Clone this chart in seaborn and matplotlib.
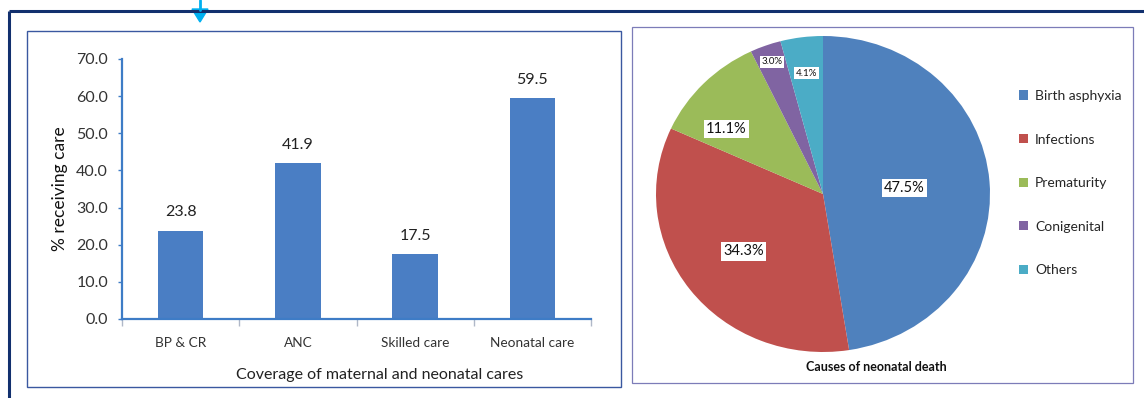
import matplotlib
matplotlib.use("Agg")
import matplotlib.pyplot as plt
import matplotlib.patches as mpatches
from matplotlib.lines import Line2D
import numpy as np
import seaborn as sns

# ---- data -------------------------------------------------------------
care_types = ["BP & CR", "ANC", "Skilled care", "Neonatal care"]
care_pct = [23.8, 41.9, 17.5, 59.5]

death_causes = ["Birth asphyxia", "Infections", "Prematurity", "Conigenital", "Others"]
death_pct = [47.5, 34.3, 11.1, 3.0, 4.1]

yticks = [0, 10, 20, 30, 40, 50, 60, 70]

# ---- styling ----------------------------------------------------------
sns.set_theme(style="white")
plt.rcParams["font.family"] = ["Lato", "DejaVu Sans"]

W, H = 1144, 398
fig = plt.figure(figsize=(W / 100, H / 100), dpi=100)
fig.patch.set_facecolor("white")


def fx(px):
    return px / W


def fy(py):
    return 1 - py / H


def rect_px(x0, y0, x1, y1):
    """figure-fraction [left, bottom, width, height] from pixel corners"""
    return [fx(x0), fy(y1), fx(x1) - fx(x0), fy(y0) - fy(y1)]


bar_blue = "#4A7EC4"
axis_blue = "#3E7CC6"
text_dark = "#333333"
pie_colors = ["#4F81BD", "#C0504D", "#9BBB59", "#8064A2", "#4BACC6"]

# ---- outer frame, arrow and panel boxes -------------------------------
navy = "#12306E"
fig.add_artist(Line2D([fx(8.5), fx(1144)], [fy(11), fy(11)], color=navy, lw=2.2,
                      transform=fig.transFigure, solid_capstyle="butt"))
fig.add_artist(Line2D([fx(8.5), fx(8.5)], [fy(11), fy(398)], color=navy, lw=2.2,
                      transform=fig.transFigure, solid_capstyle="butt"))
fig.add_artist(Line2D([fx(200), fx(200)], [fy(0), fy(10)], color="#00B0F0", lw=2,
                      transform=fig.transFigure))
fig.add_artist(mpatches.Polygon([[fx(192), fy(9)], [fx(208), fy(9)], [fx(200), fy(22)]],
                                closed=True, color="#00B0F0", transform=fig.transFigure))

fig.add_artist(mpatches.Rectangle((fx(27), fy(387)), fx(621) - fx(27), fy(31) - fy(387),
                                  fill=False, edgecolor="#3A58A0", lw=1.0,
                                  transform=fig.transFigure))
fig.add_artist(mpatches.Rectangle((fx(632), fy(383)), fx(1133) - fx(632), fy(27) - fy(383),
                                  fill=False, edgecolor="#7C7CB8", lw=0.9,
                                  transform=fig.transFigure))

# ---- bar chart: coverage of care --------------------------------------
ax = fig.add_axes(rect_px(122, 59, 591, 319))
sns.barplot(x=care_types, y=care_pct, color=bar_blue, width=0.39, saturation=1,
            ax=ax, edgecolor="none")
ax.set_xlim(-0.5, len(care_types) - 0.5)
ax.set_ylim(0, 70)
ax.set_yticks(yticks)
ax.set_yticklabels([f"{v:.1f}" for v in yticks], fontsize=11.5, color=text_dark)
ax.tick_params(axis="y", length=3, width=1, color=axis_blue, pad=7, left=True)
ax.tick_params(axis="x", which="major", length=0, pad=13, labelsize=9.8, labelcolor=text_dark)
ax.set_xticks(np.arange(-0.5, len(care_types)), minor=True)
ax.tick_params(axis="x", which="minor", length=5, width=1, color="#B0B8C8", bottom=True)
for side in ["top", "right"]:
    ax.spines[side].set_visible(False)
for side in ["left", "bottom"]:
    ax.spines[side].set_color(axis_blue)
    ax.spines[side].set_linewidth(1.6)
ax.set_ylabel("% receiving care", fontsize=12.5, color="#111111", labelpad=6)
ax.set_xlabel("Coverage of maternal and neonatal cares", fontsize=11.5, color="#222222")
ax.xaxis.set_label_coords(0.55, -0.19)
ax.bar_label(ax.containers[0], fmt="%.1f", padding=8, fontsize=11.5, color="#222222")
ax.set_facecolor("none")

# ---- pie chart: causes of neonatal death ------------------------------
pax = fig.add_axes(rect_px(656, 36, 990, 352))
wedges, _ = pax.pie(death_pct, colors=pie_colors, startangle=90, counterclock=False,
                    wedgeprops=dict(linewidth=0))
pax.set_aspect("auto")
pax.set_xlim(-1, 1)
pax.set_ylim(-1, 1)

# label radius (fraction of pie radius), turn off the mid-angle (deg), font size
label_radius = [0.49, 0.60, 0.71, 0.89, 0.77]
label_turn = [0, 0, 9, 0, 0]
label_size = [10.5, 10.5, 10.5, 7, 7]
for w, pct, r, t, fs in zip(wedges, death_pct, label_radius, label_turn, label_size):
    mid = np.deg2rad((w.theta1 + w.theta2) / 2 + t)
    pax.text(r * np.cos(mid), r * np.sin(mid), f"{pct:.1f}%", ha="center", va="center",
             fontsize=fs, color="#111111",
             bbox=dict(boxstyle="square,pad=0.15", facecolor="white", edgecolor="none"))

handles = [mpatches.Patch(facecolor=c, edgecolor="none") for c in pie_colors]
fig.legend(handles, death_causes, loc="upper left",
           bbox_to_anchor=(fx(1019), fy(90)), frameon=False, fontsize=10,
           handlelength=0.65, handleheight=0.65, handletextpad=0.5,
           labelspacing=2.27, borderaxespad=0, borderpad=0)

fig.text(fx(876), fy(367), "Causes of neonatal death", ha="center", va="center",
         fontsize=9, fontweight="bold", color="#111111")

fig.savefig("out.png", dpi=100, facecolor="white")
